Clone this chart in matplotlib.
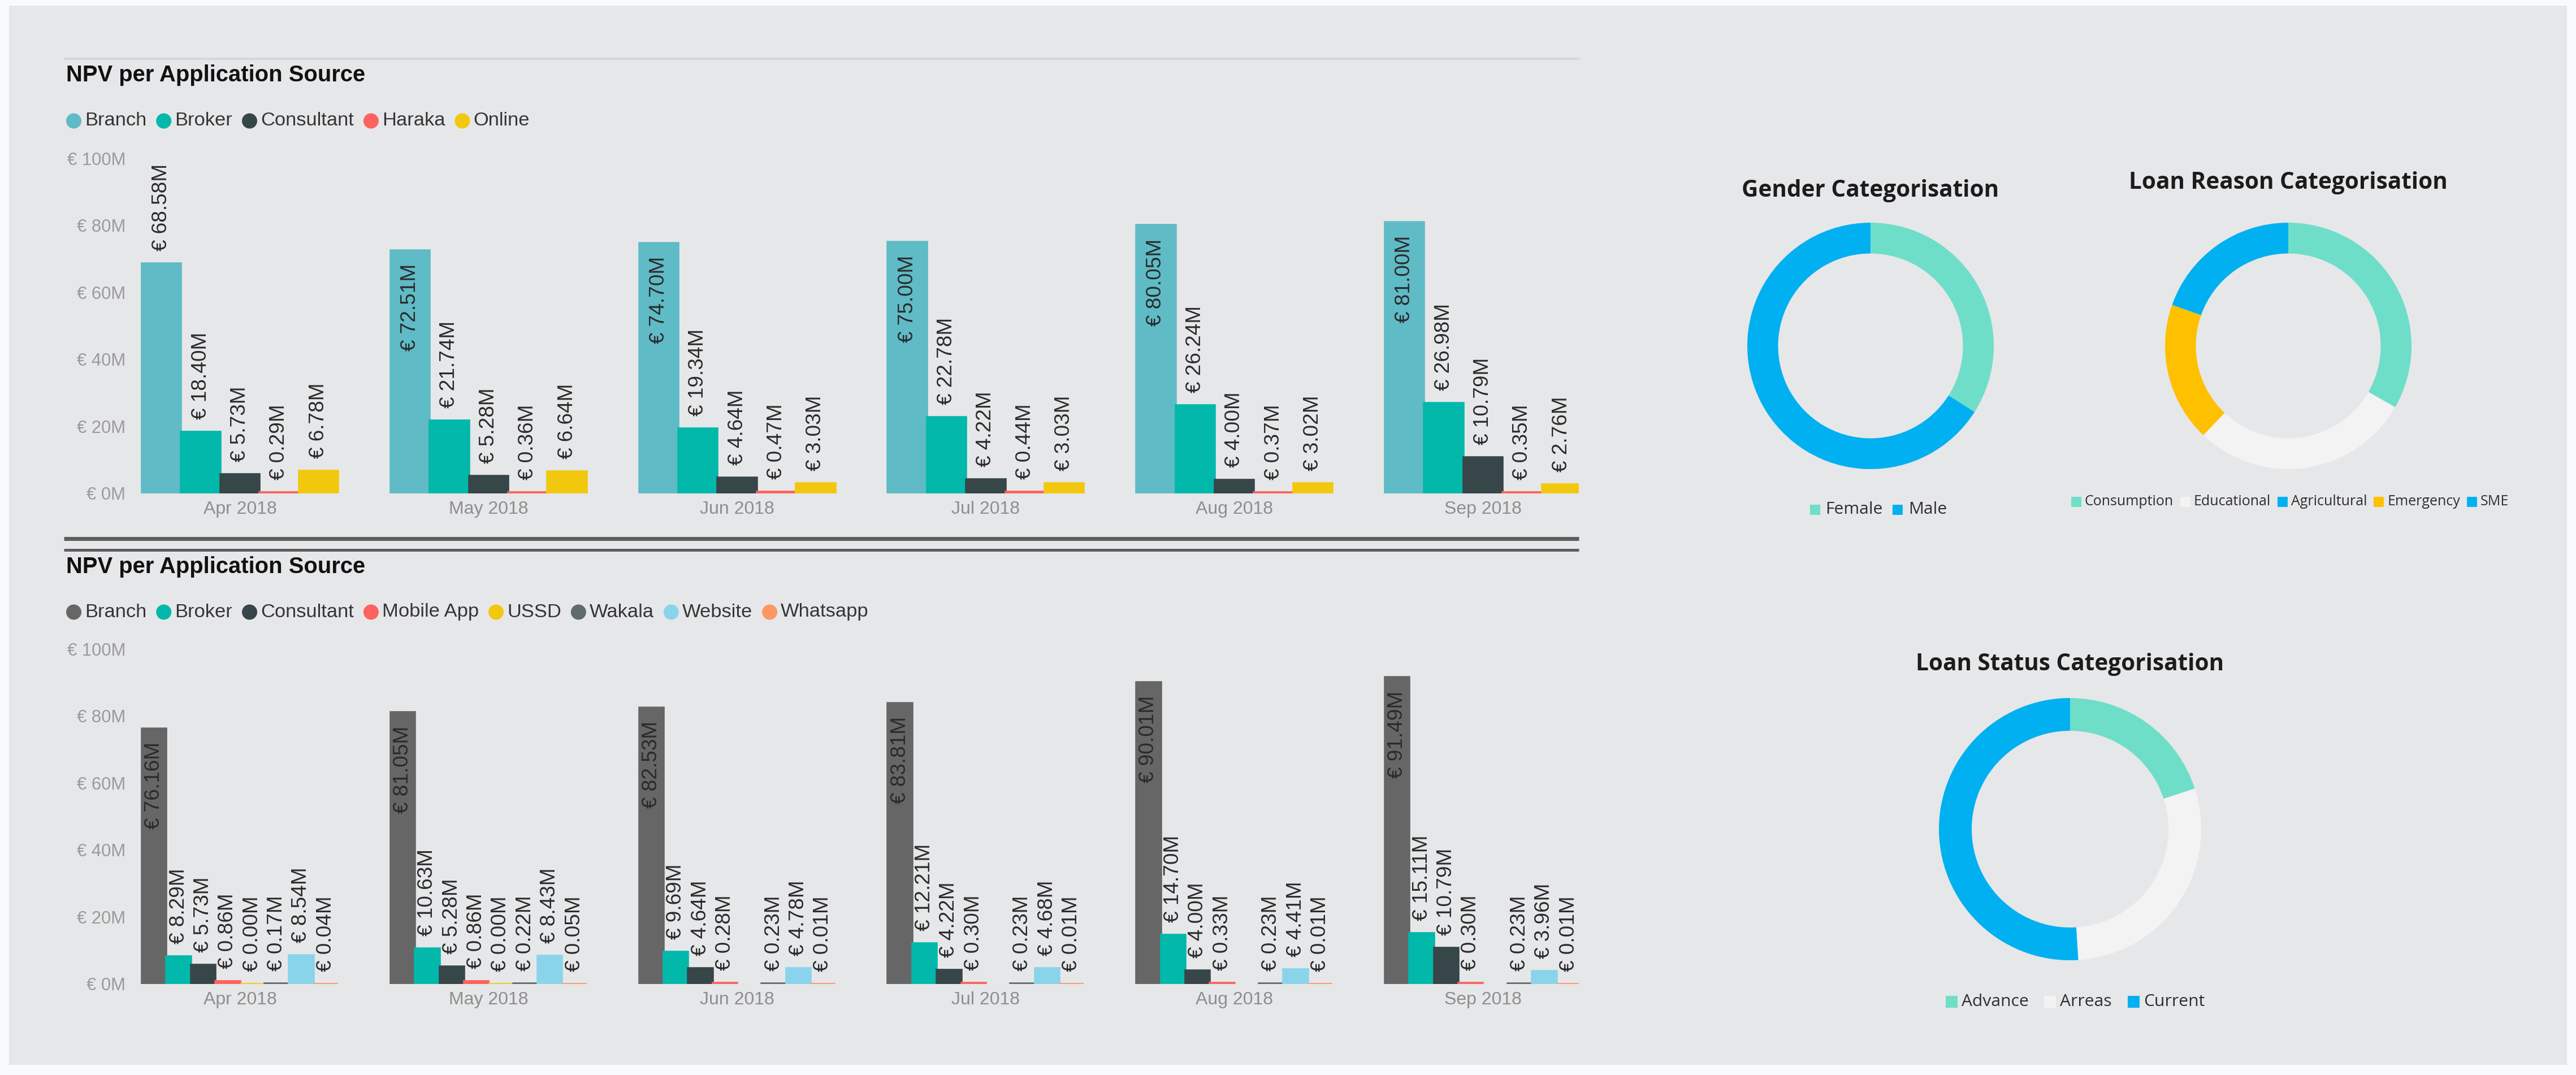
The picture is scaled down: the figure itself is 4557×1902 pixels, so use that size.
import matplotlib
matplotlib.use("Agg")
import matplotlib.pyplot as plt
import numpy as np
from matplotlib.patches import Rectangle, Ellipse
from matplotlib.lines import Line2D

W, H = 4557, 1902
DPI = 100

# ---------------- data ----------------
months = ["Apr 2018", "May 2018", "Jun 2018", "Jul 2018", "Aug 2018", "Sep 2018"]
y_ticks = [0, 20, 40, 60, 80, 100]

top_sources = ["Branch", "Broker", "Consultant", "Haraka", "Online"]
top_branch = [68.58, 72.51, 74.70, 75.00, 80.05, 81.00]
top_broker = [18.40, 21.74, 19.34, 22.78, 26.24, 26.98]
top_consultant = [5.73, 5.28, 4.64, 4.22, 4.00, 10.79]
top_haraka = [0.29, 0.36, 0.47, 0.44, 0.37, 0.35]
top_online = [6.78, 6.64, 3.03, 3.03, 3.02, 2.76]
top_colors = ["#5fbbc6", "#01b8aa", "#374649", "#fd625e", "#f2c80f"]

bottom_sources = ["Branch", "Broker", "Consultant", "Mobile App", "USSD",
                  "Wakala", "Website", "Whatsapp"]
bot_branch = [76.16, 81.05, 82.53, 83.81, 90.01, 91.49]
bot_broker = [8.29, 10.63, 9.69, 12.21, 14.70, 15.11]
bot_consultant = [5.73, 5.28, 4.64, 4.22, 4.00, 10.79]
bot_mobile_app = [0.86, 0.86, 0.28, 0.30, 0.33, 0.30]
bot_ussd = [0.00, 0.00, None, None, None, None]
bot_wakala = [0.17, 0.22, 0.23, 0.23, 0.23, 0.23]
bot_website = [8.54, 8.43, 4.78, 4.68, 4.41, 3.96]
bot_whatsapp = [0.04, 0.05, 0.01, 0.01, 0.01, 0.01]
bottom_colors = ["#666666", "#01b8aa", "#374649", "#fd625e", "#f2c80f",
                 "#5f6b6d", "#8ad4eb", "#fe9666"]

gender_labels = ["Female", "Male"]
gender_share = [34.0, 66.0]
gender_colors = ["#6fdec9", "#00b0f0"]

reason_labels = ["Consumption", "Educational", "Agricultural", "Emergency", "SME"]
reason_share = [33.3, 28.8, 0.0, 18.3, 19.6]
reason_colors = ["#6fdec9", "#f3f3f3", "#00b0f0", "#ffc000", "#00b0f0"]

status_labels = ["Advance", "Arreas", "Current"]
status_share = [20.0, 29.0, 51.0]
status_colors = ["#6fdec9", "#f3f3f3", "#00b0f0"]

# ---------------- helpers ----------------
plt.rcParams["font.family"] = ["Liberation Sans", "DejaVu Sans"]
SEGOE = ["Open Sans", "Noto Sans", "DejaVu Sans"]


def pt(px):
    return px * 72.0 / DPI


def fx(x):
    return x / W


def fy(y):
    return 1 - y / H


fig = plt.figure(figsize=(W / DPI, H / DPI), dpi=DPI)
fig.patch.set_facecolor("#f8fafd")
fig.add_artist(Rectangle((fx(16), fy(1884)), (4541 - 16) / W, (1884 - 10) / H,
                         transform=fig.transFigure, facecolor="#e6e7e9",
                         edgecolor="none", zorder=0))
renderer = fig.canvas.get_renderer()


def width_px(t):
    return t.get_window_extent(renderer).width


def hline(y, x0, x1, lw_px, color):
    fig.add_artist(Line2D([fx(x0), fx(x1)], [fy(y), fy(y)], transform=fig.transFigure,
                          color=color, linewidth=pt(lw_px), solid_capstyle="butt"))


def circle_legend(x0, yc, names, colors):
    x = x0
    r = 13.5
    for n, c in zip(names, colors):
        fig.add_artist(Ellipse((fx(x + r), fy(yc)), 2 * r / W, 2 * r / H,
                               transform=fig.transFigure, facecolor=c, edgecolor="none"))
        x += 2 * r + 6
        t = fig.text(fx(x), fy(yc), n, fontsize=pt(34.5), color="#363636",
                     ha="left", va="center")
        x += width_px(t) + 17


def bar_panel(y_base, y_top, title_y, legend_y, names, series, colors):
    left, right = 240, 2793
    ax = fig.add_axes([fx(left), fy(y_base), (right - left) / W, (y_base - y_top) / H])
    ax.set_facecolor("none")
    px_per_unit = 439.8
    ax.set_xlim((left - 424.5) / px_per_unit, (right - 424.5) / px_per_unit)
    ax.set_ylim(0, 100)
    for s in ax.spines.values():
        s.set_visible(False)

    group_w = 0.789
    n = len(series)
    bw = group_w / n
    base_x = np.arange(len(months))
    for i, (vals, c) in enumerate(zip(series, colors)):
        v = np.array([np.nan if a is None else a for a in vals], dtype=float)
        xs = base_x - group_w / 2 + bw * (i + 0.5)
        m = ~np.isnan(v)
        ax.bar(xs[m], v[m], width=bw, color=c, edgecolor=c, linewidth=2.6, zorder=2)
        for x, val in zip(xs[m], v[m]):
            lab = f"€ {val:.2f}M"
            t = ax.annotate(lab, (x, val), xytext=(0, pt(22)), textcoords="offset points",
                            rotation=90, ha="center", va="bottom", fontsize=pt(37),
                            color="#2a2a2a", zorder=3)
            ext = t.get_window_extent(renderer)
            top_limit = ax.get_window_extent(renderer).y1 + 4
            if ext.y1 > top_limit:
                # not enough headroom: place the label inside the bar top
                t.remove()
                ax.annotate(lab, (x, val), xytext=(0, -pt(24)), textcoords="offset points",
                            rotation=90, ha="center", va="top", fontsize=pt(37),
                            color="#2a2a2a", zorder=3)

    ax.set_yticks(y_ticks)
    ax.set_yticklabels([f"€ {v}M" for v in y_ticks])
    ax.set_xticks(base_x)
    ax.set_xticklabels(months)
    ax.tick_params(axis="y", length=0, pad=pt(18), labelsize=pt(31), labelcolor="#9a9a9a")
    ax.tick_params(axis="x", length=0, pad=pt(13), labelsize=pt(32), labelcolor="#8e8e8e")

    fig.text(fx(117), fy(title_y), "NPV per Application Source", fontsize=pt(40),
             fontweight="bold", color="#111111", ha="left", va="center")
    circle_legend(117, legend_y, names, colors)
    return ax


# ---------------- bar charts ----------------
hline(104, 113, 2794, 4, "#d5d6d8")
bar_panel(873, 280, 133, 214, top_sources,
          [top_branch, top_broker, top_consultant, top_haraka, top_online], top_colors)

hline(953, 113, 2793, 7, "#5e5e5e")
hline(973, 113, 2793, 5, "#5e5e5e")
bar_panel(1741, 1148, 1003, 1083, bottom_sources,
          [bot_branch, bot_broker, bot_consultant, bot_mobile_app, bot_ussd,
           bot_wakala, bot_website, bot_whatsapp], bottom_colors)


# ---------------- donut charts ----------------
def donut(cx, cy, r, values, colors, title, title_y, leg_labels, leg_y, leg_cx,
          leg_fs, sq, sq_gap, item_gap):
    ax = fig.add_axes([fx(cx - r), fy(cy + r), 2 * r / W, 2 * r / H])
    ax.pie(values, colors=colors, startangle=90, counterclock=False, radius=1,
           wedgeprops=dict(width=0.25, linewidth=0))
    ax.set_xlim(-1, 1)
    ax.set_ylim(-1, 1)
    ax.set_aspect("equal")
    ax.axis("off")

    fig.text(fx(cx), fy(title_y), title, fontsize=pt(40.5), fontweight="bold",
             family=SEGOE, color="#1c1c1c", ha="center", va="center")

    # legend: squares + labels, centred under the ring
    texts = []
    total = 0
    for lab in leg_labels:
        t = fig.text(0, 0, lab, fontsize=pt(leg_fs), family=SEGOE, color="#2f2f2f",
                     ha="left", va="center")
        w = width_px(t)
        texts.append((t, w))
        total += sq + sq_gap + w
    total += item_gap * (len(leg_labels) - 1)
    x = leg_cx - total / 2
    for (t, w), c in zip(texts, colors):
        fig.add_artist(Rectangle((fx(x), fy(leg_y + sq / 2)), sq / W, sq / H,
                                 transform=fig.transFigure, facecolor=c, edgecolor="none"))
        x += sq + sq_gap
        t.set_position((fx(x), fy(leg_y)))
        x += w + item_gap


donut(3309, 612, 218, gender_share, gender_colors, "Gender Categorisation", 337,
      gender_labels, 902, 3323, 30, 18, 10, 17)
donut(4048, 612, 218, reason_share, reason_colors, "Loan Reason Categorisation", 324,
      reason_labels, 888, 4051, 25, 18, 6, 12)
donut(3662, 1467, 232, status_share, status_colors, "Loan Status Categorisation", 1176,
      status_labels, 1772, 3671, 30, 21, 7, 28)

fig.savefig("out.png", dpi=DPI, facecolor=fig.get_facecolor())
